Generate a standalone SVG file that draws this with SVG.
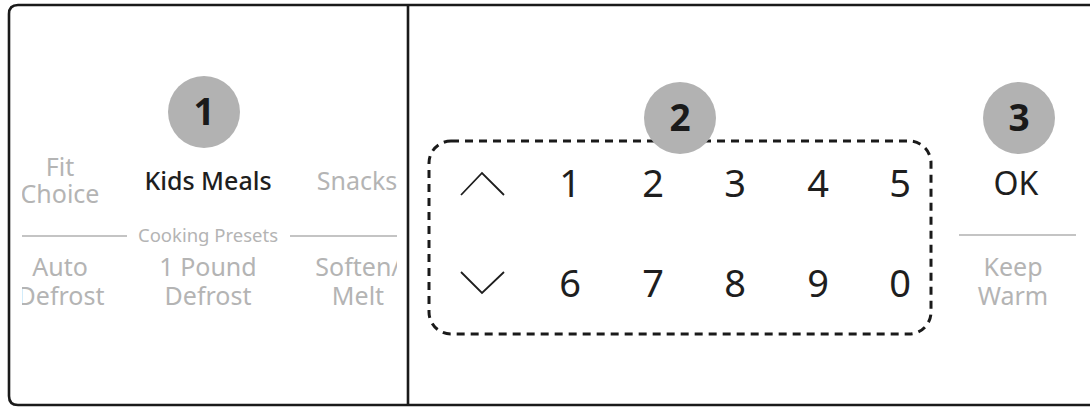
<svg xmlns="http://www.w3.org/2000/svg" width="1090" height="407" viewBox="0 0 1090 407">
<defs>
<style>
text{font-family:"Noto Sans","Open Sans","DejaVu Sans",sans-serif;text-anchor:middle}
.g{fill:#b4b4b4;font-size:25px}
.s{fill:#b4b4b4;font-size:18.5px}
.k{fill:#1e1e1e}
.d{fill:#1e1e1e;font-size:38px}
.b{fill:#1a1a1a;font-size:37px;font-weight:bold}
.c{fill:#b2b2b2}
.ln{stroke:#c4c4c4;stroke-width:2}
.chev{fill:none;stroke:#1e1e1e;stroke-width:1.8}
</style>
<clipPath id="lp"><rect x="22" y="10" width="375" height="390"/></clipPath>
</defs>
<rect width="1090" height="407" fill="#fff"/>
<g id="frame">
<path d="M1100 5 H18 Q9 5 9 14 V396 Q9 405 18 405 H1100" fill="none" stroke="#1a1a1a" stroke-width="2.6"/>
<line x1="408" y1="5" x2="408" y2="405" stroke="#1a1a1a" stroke-width="2.6"/>
</g>
<g id="presets" clip-path="url(#lp)">
<text class="g" x="60" y="176">Fit</text>
<text class="g" x="60" y="203">Choice</text>
<text class="k" x="208" y="190" font-size="25" font-weight="500">Kids Meals</text>
<text class="g" x="357" y="190">Snacks</text>
<line class="ln" x1="22" y1="236" x2="127" y2="236"/>
<text class="s" x="208" y="242">Cooking Presets</text>
<line class="ln" x1="290" y1="236" x2="397" y2="236"/>
<text class="g" x="60" y="276">Auto</text>
<text class="g" x="61" y="305">Defrost</text>
<text class="g" x="208" y="276">1 Pound</text>
<text class="g" x="208" y="305">Defrost</text>
<text class="g" x="358" y="276">Soften/</text>
<text class="g" x="358" y="305">Melt</text>
</g>
<g id="badge1">
<circle class="c" cx="204" cy="112" r="36"/>
<text class="b" x="204" y="125">1</text>
</g>
<g id="keypad">
<rect x="429" y="141" width="502" height="193" rx="22" fill="none" stroke="#1a1a1a" stroke-width="3" stroke-dasharray="8 6"/>
<path class="chev" d="M461 195 L482 173 L504 195"/>
<path class="chev" d="M461 272 L482 293 L504 272"/>
<text class="d" x="570" y="197">1</text>
<text class="d" x="653" y="197">2</text>
<text class="d" x="735" y="197">3</text>
<text class="d" x="818" y="197">4</text>
<text class="d" x="900" y="197">5</text>
<text class="d" x="570" y="297">6</text>
<text class="d" x="653" y="297">7</text>
<text class="d" x="735" y="297">8</text>
<text class="d" x="818" y="297">9</text>
<text class="d" x="900" y="297">0</text>
</g>
<g id="badge2">
<circle class="c" cx="680" cy="118" r="36"/>
<text class="b" x="680" y="131">2</text>
</g>
<g id="ok">
<text class="k" x="1016" y="195" font-size="32">OK</text>
<line class="ln" x1="959" y1="235" x2="1076" y2="235"/>
<text class="g" x="1013" y="276">Keep</text>
<text class="g" x="1013" y="305">Warm</text>
</g>
<g id="badge3">
<circle class="c" cx="1019" cy="118" r="36"/>
<text class="b" x="1019" y="131">3</text>
</g>
</svg>
